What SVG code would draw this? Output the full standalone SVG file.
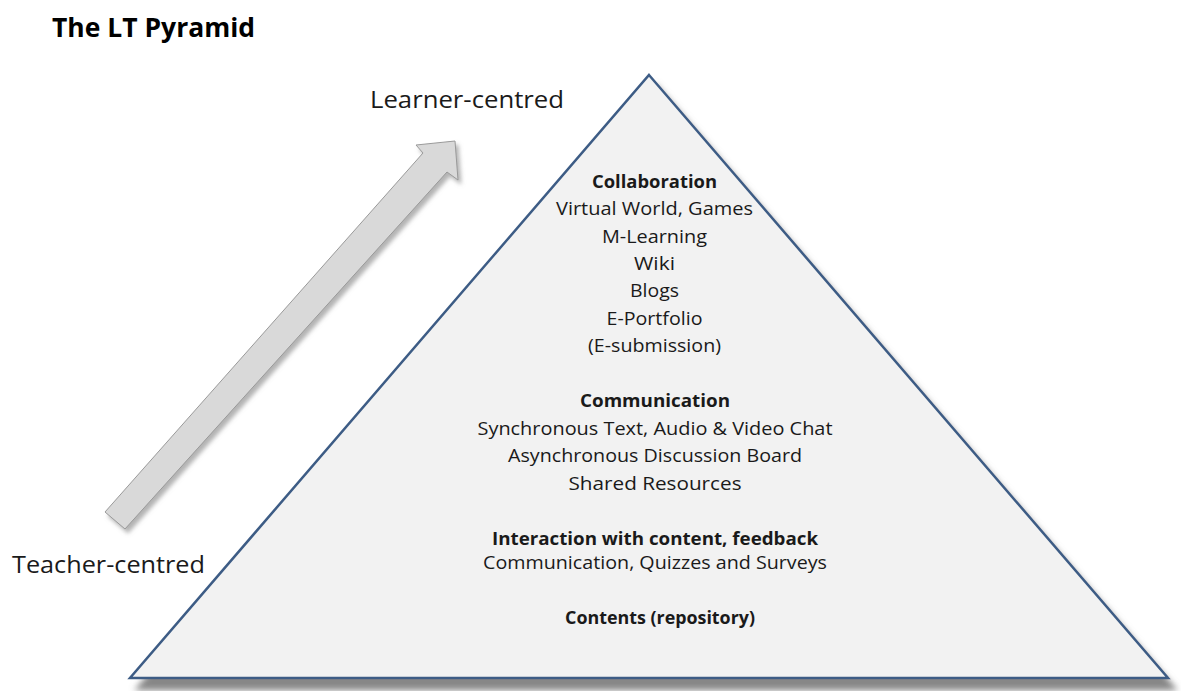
<svg xmlns="http://www.w3.org/2000/svg" width="1181" height="691" viewBox="0 0 1181 691">
  <defs>
    <filter id="pyrShadow" x="-5%" y="-5%" width="115%" height="120%">
      <feGaussianBlur in="SourceAlpha" stdDeviation="3"/>
      <feOffset dx="7" dy="11" result="off"/>
      <feFlood flood-color="#7a7a7a" flood-opacity="0.9"/>
      <feComposite in2="off" operator="in" result="shadow"/>
      <feMerge>
        <feMergeNode in="shadow"/>
        <feMergeNode in="SourceGraphic"/>
      </feMerge>
    </filter>
    <filter id="arrowShadow" x="-10%" y="-10%" width="125%" height="125%">
      <feGaussianBlur in="SourceAlpha" stdDeviation="2"/>
      <feOffset dx="3" dy="4" result="off"/>
      <feFlood flood-color="#808080" flood-opacity="0.6"/>
      <feComposite in2="off" operator="in" result="shadow"/>
      <feMerge>
        <feMergeNode in="shadow"/>
        <feMergeNode in="SourceGraphic"/>
      </feMerge>
    </filter>
  </defs>
  <style>
    text { font-family: "Open Sans", "Noto Sans", "Liberation Sans", sans-serif; fill: #1a1a1a; }
    .t { font-size: 18px; text-anchor: middle; }
    .b { font-weight: bold; }
    .side { font-size: 24.5px; }
    .title { font-size: 27px; font-weight: bold; fill: #000; }
    .tri { fill: #f2f2f2; stroke: #3d5c85; stroke-width: 2.5; stroke-linejoin: miter; }
    .arrow { fill: #d9d9d9; stroke: #9a9a9a; stroke-width: 1; stroke-linejoin: miter; }
  </style>

  <rect width="1181" height="691" fill="#ffffff"/>

  <g id="title">
    <text class="title" x="52" y="37" textLength="203" lengthAdjust="spacingAndGlyphs">The LT Pyramid</text>
  </g>

  <!-- pyramid body -->
  <g id="pyramid">
    <polygon class="tri" points="649,75 1168,678 130,678" filter="url(#pyrShadow)"/>
  </g>

  <!-- tier: collaboration -->
  <g id="tier-collaboration">
    <text class="t b" x="654.5" y="188" textLength="125" lengthAdjust="spacingAndGlyphs">Collaboration</text>
    <text class="t" x="654.5" y="215" textLength="197" lengthAdjust="spacingAndGlyphs">Virtual World, Games</text>
    <text class="t" x="654.5" y="243" textLength="105" lengthAdjust="spacingAndGlyphs">M-Learning</text>
    <text class="t" x="654.5" y="270" textLength="41" lengthAdjust="spacingAndGlyphs">Wiki</text>
    <text class="t" x="654.5" y="297" textLength="49" lengthAdjust="spacingAndGlyphs">Blogs</text>
    <text class="t" x="654.5" y="325" textLength="96" lengthAdjust="spacingAndGlyphs">E-Portfolio</text>
    <text class="t" x="654.5" y="352" textLength="133" lengthAdjust="spacingAndGlyphs">(E-submission)</text>
  </g>

  <!-- tier: communication -->
  <g id="tier-communication">
    <text class="t b" x="655" y="407" textLength="150" lengthAdjust="spacingAndGlyphs">Communication</text>
    <text class="t" x="655" y="435" textLength="355" lengthAdjust="spacingAndGlyphs">Synchronous Text, Audio &amp; Video Chat</text>
    <text class="t" x="655" y="462" textLength="294" lengthAdjust="spacingAndGlyphs">Asynchronous Discussion Board</text>
    <text class="t" x="655" y="490" textLength="173" lengthAdjust="spacingAndGlyphs">Shared Resources</text>
  </g>

  <!-- tier: interaction -->
  <g id="tier-interaction">
    <text class="t b" x="655" y="545" textLength="326" lengthAdjust="spacingAndGlyphs">Interaction with content, feedback</text>
    <text class="t" x="655" y="569" textLength="344" lengthAdjust="spacingAndGlyphs">Communication, Quizzes and Surveys</text>
  </g>

  <!-- tier: contents -->
  <g id="tier-contents">
    <text class="t b" x="660" y="624" textLength="190" lengthAdjust="spacingAndGlyphs">Contents (repository)</text>
  </g>

  <!-- axis labels -->
  <g id="label-learner">
    <text class="side" x="370" y="108" textLength="194" lengthAdjust="spacingAndGlyphs">Learner-centred</text>
  </g>
  <g id="label-teacher">
    <text class="side" x="12" y="573" textLength="193" lengthAdjust="spacingAndGlyphs">Teacher-centred</text>
  </g>

  <!-- progression arrow from teacher- to learner-centred -->
  <g id="connectors">
    <polygon class="arrow" filter="url(#arrowShadow)"
             points="105,512 423,153 416,145 455,141 458,180 447,172 125,529"/>
  </g>
</svg>
